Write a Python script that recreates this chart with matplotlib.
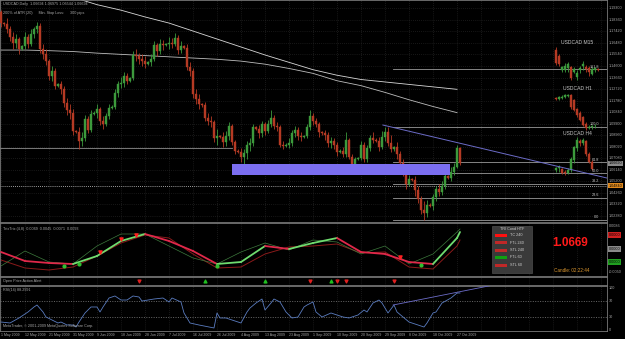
import numpy as np
import matplotlib
matplotlib.use("Agg")
import matplotlib.pyplot as plt
from matplotlib.patches import Rectangle

plt.rcParams['font.family'] = ['Liberation Sans', 'DejaVu Sans']

# ---------------- data ----------------
date_labels = ["1 May 2009", "12 May 2009", "21 May 2009", "31 May 2009", "9 Jun 2009",
               "18 Jun 2009", "28 Jun 2009", "7 Jul 2009", "16 Jul 2009", "26 Jul 2009",
               "4 Aug 2009", "13 Aug 2009", "23 Aug 2009", "1 Sep 2009", "10 Sep 2009",
               "20 Sep 2009", "29 Sep 2009", "8 Oct 2009", "18 Oct 2009", "27 Oct 2009"]

first_open = 1.1900
close = [1.1810, 1.1800, 1.1760, 1.1700, 1.1650, 1.1680, 1.1600, 1.1620,
         1.1700, 1.1640, 1.1720, 1.1760, 1.1790, 1.1600, 1.1560, 1.1500,
         1.1380, 1.1420, 1.1300, 1.1310, 1.1270, 1.1160, 1.1100, 1.1080,
         1.0930, 1.0920, 1.0850, 1.0870, 1.1030, 1.0940, 1.1070, 1.1080,
         1.1110, 1.1010, 1.0990, 1.1050, 1.1120, 1.1130, 1.1240, 1.1310,
         1.1320, 1.1380, 1.1340, 1.1360, 1.1550, 1.1540, 1.1520, 1.1500,
         1.1480, 1.1490, 1.1520, 1.1630, 1.1580, 1.1640, 1.1630, 1.1640,
         1.1650, 1.1640, 1.1690, 1.1590, 1.1620, 1.1610, 1.1450, 1.1420,
         1.1230, 1.1190, 1.1150, 1.1140, 1.1040, 1.1010, 1.1000, 1.0870,
         1.0890, 1.0880, 1.0840, 1.0890, 1.0970, 1.0840, 1.0770, 1.0760,
         1.0720, 1.0750, 1.0820, 1.0830, 1.0960, 1.0950, 1.0910, 1.0990,
         1.0930, 1.0990, 1.1040, 1.0970, 1.0960, 1.0820, 1.0810, 1.0820,
         1.0830, 1.0910, 1.0940, 1.0890, 1.0880, 1.0890, 1.0960, 1.1050,
         1.1010, 1.0990, 1.0920, 1.0910, 1.0900, 1.0830, 1.0850, 1.0820,
         1.0760, 1.0770, 1.0740, 1.0860, 1.0720, 1.0650, 1.0700, 1.0710,
         1.0820, 1.0700, 1.0790, 1.0870, 1.0860, 1.0850, 1.0800, 1.0880,
         1.0920, 1.0830, 1.0780, 1.0800, 1.0740, 1.0670, 1.0590, 1.0500,
         1.0540, 1.0530, 1.0450, 1.0380, 1.0290, 1.0260, 1.0330, 1.0320,
         1.0390, 1.0460, 1.0430, 1.0480, 1.0560, 1.0550, 1.0600, 1.0640,
         1.0790, 1.0669]
high = [1.1920, 1.1820, 1.1850, 1.1790, 1.1740, 1.1720, 1.1700, 1.1630,
        1.1740, 1.1720, 1.1760, 1.1780, 1.1820, 1.1810, 1.1640, 1.1600,
        1.1520, 1.1460, 1.1440, 1.1320, 1.1340, 1.1300, 1.1200, 1.1150,
        1.1110, 1.0940, 1.0960, 1.0920, 1.1060, 1.1050, 1.1100, 1.1090,
        1.1150, 1.1130, 1.1050, 1.1080, 1.1150, 1.1140, 1.1270, 1.1340,
        1.1370, 1.1410, 1.1400, 1.1370, 1.1580, 1.1600, 1.1570, 1.1560,
        1.1540, 1.1500, 1.1560, 1.1660, 1.1650, 1.1680, 1.1670, 1.1650,
        1.1700, 1.1690, 1.1725, 1.1710, 1.1660, 1.1630, 1.1640, 1.1490,
        1.1440, 1.1270, 1.1230, 1.1160, 1.1170, 1.1080, 1.1050, 1.1020,
        1.0950, 1.0900, 1.0920, 1.0930, 1.1000, 1.0990, 1.0860, 1.0780,
        1.0790, 1.0780, 1.0850, 1.0870, 1.0990, 1.0970, 1.0980, 1.1010,
        1.1000, 1.1020, 1.1100, 1.1060, 1.1000, 1.0980, 1.0850, 1.0830,
        1.0870, 1.0940, 1.0970, 1.0960, 1.0920, 1.0900, 1.0990, 1.1100,
        1.1080, 1.1040, 1.1000, 1.0930, 1.0940, 1.0920, 1.0880, 1.0870,
        1.0840, 1.0780, 1.0800, 1.0920, 1.0870, 1.0740, 1.0720, 1.0720,
        1.0850, 1.0840, 1.0820, 1.0900, 1.0920, 1.0870, 1.0880, 1.0930,
        1.0960, 1.0965, 1.0900, 1.0810, 1.0840, 1.0770, 1.0700, 1.0620,
        1.0570, 1.0550, 1.0560, 1.0480, 1.0400, 1.0360, 1.0370, 1.0340,
        1.0420, 1.0480, 1.0500, 1.0520, 1.0590, 1.0570, 1.0640, 1.0670,
        1.0816, 1.0800]
low = [1.1780, 1.1790, 1.1730, 1.1660, 1.1600, 1.1610, 1.1560, 1.1590,
       1.1600, 1.1610, 1.1620, 1.1690, 1.1730, 1.1570, 1.1520, 1.1470,
       1.1350, 1.1340, 1.1270, 1.1290, 1.1230, 1.1130, 1.1060, 1.1030,
       1.0900, 1.0910, 1.0785, 1.0810, 1.0850, 1.0910, 1.0920, 1.1060,
       1.1040, 1.0980, 1.0950, 1.0970, 1.1030, 1.1110, 1.1110, 1.1210,
       1.1280, 1.1290, 1.1310, 1.1330, 1.1350, 1.1500, 1.1480, 1.1460,
       1.1440, 1.1470, 1.1460, 1.1500, 1.1540, 1.1560, 1.1590, 1.1620,
       1.1600, 1.1610, 1.1620, 1.1560, 1.1570, 1.1600, 1.1430, 1.1380,
       1.1200, 1.1150, 1.1110, 1.1130, 1.1010, 1.0980, 1.0960, 1.0840,
       1.0820, 1.0870, 1.0800, 1.0810, 1.0860, 1.0820, 1.0740, 1.0750,
       1.0680, 1.0630, 1.0700, 1.0770, 1.0810, 1.0940, 1.0870, 1.0880,
       1.0900, 1.0910, 1.0960, 1.0950, 1.0930, 1.0800, 1.0780, 1.0800,
       1.0790, 1.0810, 1.0880, 1.0860, 1.0850, 1.0870, 1.0870, 1.0940,
       1.0980, 1.0960, 1.0880, 1.0900, 1.0860, 1.0800, 1.0790, 1.0780,
       1.0730, 1.0750, 1.0720, 1.0720, 1.0700, 1.0620, 1.0610, 1.0690,
       1.0690, 1.0680, 1.0680, 1.0770, 1.0830, 1.0840, 1.0770, 1.0780,
       1.0850, 1.0810, 1.0760, 1.0770, 1.0700, 1.0640, 1.0560, 1.0460,
       1.0480, 1.0520, 1.0400, 1.0340, 1.0250, 1.0207, 1.0230, 1.0310,
       1.0290, 1.0360, 1.0400, 1.0410, 1.0460, 1.0540, 1.0520, 1.0570,
       1.0630, 1.0654]

# moving averages, read every 8 bars
ma_bars = [0, 8, 16, 24, 32, 40, 48, 56, 64, 72, 80, 88, 96, 104, 112, 120, 128, 136, 144, 152]
ma_slow = [1.2090, 1.2070, 1.2045, 1.2020, 1.1960, 1.1915, 1.1860, 1.1810, 1.1745, 1.1680,
           1.1615, 1.1550, 1.1490, 1.1430, 1.1385, 1.1350, 1.1330, 1.1310, 1.1290, 1.1270]
ma_fast = [1.1590, 1.1590, 1.1585, 1.1578, 1.1565, 1.1555, 1.1545, 1.1535, 1.1525, 1.1515,
           1.1500, 1.1475, 1.1440, 1.1400, 1.1340, 1.1300, 1.1245, 1.1185, 1.1130, 1.1080]

fib_low, fib_high = 1.0207, 1.0965
fib_levels = [0.0, 23.6, 38.2, 50.0, 61.8, 100.0, 161.8]
hline_price = 1.0484
support_price = 1.0790
support_bars = (-1, 77)
zone_prices = (1.0572, 1.0661)
zone_bars = (77, 149.7)
trend_bars = [127.3, 202]
trend_prices = [1.0979, 1.0547]

price_ticks = [1.1930, 1.1836, 1.1742, 1.1648, 1.1554, 1.1460, 1.1366, 1.1272, 1.1178, 1.1084,
               1.0990, 1.0896, 1.0802, 1.0708, 1.0614, 1.0520, 1.0426, 1.0332, 1.0238]

# mini charts (open, close, high, low) on the main price scale
m15 = [(1.1591, 1.1485, 1.1615, 1.1468), (1.1542, 1.1476, 1.1558, 1.1460),
       (1.1428, 1.1452, 1.1460, 1.1411), (1.1428, 1.1460, 1.1485, 1.1411),
       (1.1444, 1.1476, 1.1493, 1.1411), (1.1452, 1.1362, 1.1460, 1.1346),
       (1.1411, 1.1436, 1.1452, 1.1403), (1.1370, 1.1403, 1.1428, 1.1346),
       (1.1428, 1.1444, 1.1460, 1.1403), (1.1460, 1.1476, 1.1501, 1.1428),
       (1.1452, 1.1436, 1.1468, 1.1411), (1.1444, 1.1411, 1.1460, 1.1379),
       (1.1395, 1.1436, 1.1452, 1.1387), (1.1428, 1.1444, 1.1452, 1.1411),
       (1.1436, 1.1428, 1.1444, 1.1419)]
h1 = [(1.1200, 1.1190, 1.1210, 1.1180), (1.1195, 1.1205, 1.1215, 1.1185),
      (1.1200, 1.1210, 1.1220, 1.1190), (1.1207, 1.1220, 1.1230, 1.1200),
      (1.1215, 1.1225, 1.1235, 1.1205), (1.1224, 1.1126, 1.1230, 1.1110),
      (1.1183, 1.1102, 1.1190, 1.1090), (1.1110, 1.1060, 1.1120, 1.1044),
      (1.1077, 1.1020, 1.1090, 1.1010), (1.1044, 1.0979, 1.1050, 1.0970),
      (1.0990, 1.0955, 1.1000, 1.0939), (1.0955, 1.0965, 1.0979, 1.0945),
      (1.0960, 1.0972, 1.0980, 1.0950), (1.0968, 1.0975, 1.0985, 1.0955)]
h4 = [(1.0610, 1.0630, 1.0640, 1.0596), (1.0625, 1.0640, 1.0655, 1.0600),
      (1.0620, 1.0590, 1.0630, 1.0580), (1.0600, 1.0585, 1.0610, 1.0572),
      (1.0590, 1.0615, 1.0625, 1.0580), (1.0610, 1.0700, 1.0718, 1.0600),
      (1.0690, 1.0800, 1.0810, 1.0670), (1.0790, 1.0860, 1.0880, 1.0770),
      (1.0850, 1.0830, 1.0865, 1.0810), (1.0830, 1.0855, 1.0870, 1.0815),
      (1.0850, 1.0740, 1.0860, 1.0730), (1.0745, 1.0680, 1.0760, 1.0670),
      (1.0680, 1.0620, 1.0690, 1.0610)]

# Trix panel (indicator units), read every 8 bars
trix_bars = ma_bars + [153]
trix_main = [24, 15, 13, 12, 20, 35, 42, 35, 25, 12, 14, 30, 27, 33, 38, 24, 22, 14, 12, 38, 44]
trix_slow = [16, 8, 6, 9, 20, 33, 41, 38, 22, 8, 9, 22, 29, 30, 32, 23, 24, 9, 7, 30, 36]
trix_fast = [10, 25, 14, 12, 30, 42, 42, 30, 18, 12, 24, 33, 26, 36, 34, 22, 30, 12, 22, 44, 47]
trix_arrow_dn = [33, 40, 45, 133]
trix_arrow_up = [21, 26, 72, 140]

alert_dn = [46, 103, 112, 115, 131]
alert_up = [68, 88, 110]

rsi_bars = [0, 3, 6, 9, 11, 12, 14, 15, 17, 19, 20, 22, 24, 25, 26, 28, 30, 32, 33, 34,
            36, 38, 40, 42, 44, 46, 47, 51, 54, 56, 57, 60, 61, 63, 66, 71, 72, 73, 75, 77,
            80, 82, 83, 85, 87, 88, 90, 91, 93, 95, 97, 99, 101, 102, 104, 105, 107, 110, 112, 114,
            116, 117, 119, 121, 122, 124, 126, 127, 129, 131, 132, 134, 136, 139, 141, 142, 144, 145, 147, 150,
            152, 153]
rsi_vals = [19.0, 16.7, 28.6, 42.9, 54.8, 59.5, 42.9, 31.0, 23.8, 16.7, 19.0, 11.9, 11.9, 7.1, 19.0,
            40.5, 54.8, 54.8, 42.9, 54.8, 76.2, 81.0, 71.4, 71.4, 81.0, 78.6, 69.0, 73.8, 76.2, 66.7,
            76.2, 66.7, 40.5, 16.7, 11.9, 4.8, 40.5, 28.6, 28.6, 23.8, 16.7, 42.9, 52.4, 64.3, 73.8,
            47.6, 64.3, 73.8, 66.7, 42.9, 28.6, 31.0, 54.8, 59.5, 66.7, 42.9, 31.0, 40.5, 35.7, 31.0,
            28.6, 31.0, 35.7, 47.6, 42.9, 64.3, 71.4, 64.3, 40.5, 59.5, 42.9, 31.0, 19.0, 11.9, 7.1,
            16.7, 40.5, 42.9, 64.3, 76.2, 88.1, 88.1]
rsi_trend_bars = [130.7, 163]
rsi_trend_vals = [59.5, 105.5]

legend_rows = [("TC 240", "#ff1010"), ("FTL 240", "#c02828"), ("STL 240", "#c02828"),
               ("FTL 60", "#10a010"), ("STL 60", "#c02828")]

# ---------------- layout ----------------
W, H = 625.0, 339.0
BG = "black"
GRIDC = "#2e2e2e"
TXT = "#a8a8a8"
UP = "#3c9a3c"
DN = "#b53a24"
FS = 2.7
P0, K = 1.1998, 0.000815  # price at top pixel, price per pixel
XL = (-1 / 3, 202)

fig = plt.figure(figsize=(6.25, 3.39), dpi=100, facecolor=BG)


def panel(y0, y1):
    ax = fig.add_axes([0, 1 - y1 / H, 607 / W, (y1 - y0) / H])
    ax.set_facecolor(BG)
    ax.set_xticks([])
    ax.set_yticks([])
    for s in ax.spines.values():
        s.set_color("#7a7a7a")
        s.set_linewidth(0.6)
    ax.set_xlim(*XL)
    for b in range(0, 203, 8):
        ax.axvline(b, color=GRIDC, lw=0.5, ls=(0, (1, 2)), zorder=0)
    return ax


def rtext(y, s, **kw):
    fig.text(609 / W, 1 - y / H, s, color=kw.pop("color", TXT), fontsize=FS,
             va="center", ha="left", **kw)


def candles(ax, xs, o, c, h, l, lw=0.6, w=0.55):
    for x, oo, cc, hh, ll in zip(xs, o, c, h, l):
        col = UP if cc >= oo else DN
        ax.vlines(x, ll, hh, color=col, lw=lw, zorder=3)
        ax.add_patch(Rectangle((x - w / 2, min(oo, cc)), w, max(abs(cc - oo), 0.0002),
                               facecolor=col, edgecolor=col, lw=0.3, zorder=3))


# ---- main chart ----
ax = panel(0, 222)
ax.set_ylim(P0 - 222 * K, P0)
for p in price_ticks:
    ax.axhline(p, color=GRIDC, lw=0.5, ls=(0, (1, 2)), zorder=0)
    rtext((P0 - p) / K, f"{p:.4f}0")

bars = np.arange(len(close))
opens = [first_open] + close[:-1]
candles(ax, bars, opens, close, high, low)

ax.plot(ma_bars, ma_slow, color="#d8d8d8", lw=0.6, zorder=2)
ax.plot(ma_bars, ma_fast, color="#bdbdbd", lw=0.6, zorder=2)

ax.plot(support_bars, [support_price] * 2, color="#8c8c8c", lw=0.6, zorder=2)
ax.add_patch(Rectangle((zone_bars[0], zone_prices[0]), zone_bars[1] - zone_bars[0],
                       zone_prices[1] - zone_prices[0], facecolor="#7b6ef0",
                       edgecolor="none", zorder=4))
ax.plot(trend_bars, trend_prices, color="#6c6cc8", lw=0.7, zorder=4)
ax.axhline(hline_price, color="#d0d0d0", lw=0.6, ls=(0, (1, 1.5)), zorder=2)

x_fib = 130.7
for lv in fib_levels:
    p = fib_low + (fib_high - fib_low) * lv / 100
    ax.plot([x_fib, XL[1]], [p, p], color="#9a9a9a", lw=0.6, zorder=2)
    ax.text(199.5, p + 0.0006, f"{lv:.1f}", color="#c8c8c8", fontsize=FS,
            ha="right", va="bottom", zorder=5)

for data, x0, name, ny in ((m15, 185, "USDCAD M15", 1.1633), (h1, 185, "USDCAD H1", 1.1255),
                           (h4, 185, "USDCAD H4", 1.0892)):
    xs = np.arange(x0, x0 + len(data))
    candles(ax, xs, [d[0] for d in data], [d[1] for d in data],
            [d[2] for d in data], [d[3] for d in data], lw=0.6, w=0.6)
    ax.text(x0 + 7, ny, name, color="#c8c8c8", fontsize=3.6, ha="center", va="bottom", zorder=5)

# price highlights on axis
for p, bgc, fc in ((close[-1], "#8a8a8a", "black"), (hline_price, "#e08a1e", "black")):
    fig.text(609 / W, 1 - ((P0 - p) / K) / H, f"{p:.5f}", color=fc, fontsize=FS, va="center",
             ha="left", bbox=dict(boxstyle="square,pad=0.15", fc=bgc, ec="none"))

fig.text(3 / W, 1 - 4 / H, "USDCAD,Daily  1.06694 1.06975 1.06544 1.06694", color=TXT,
         fontsize=FS, va="center")
fig.text(3 / W, 1 - 13 / H, "200% of ATR (20)      Min. Stop Loss:      300 pips", color=TXT,
         fontsize=FS, va="center")

# ---- Trix panel ----
ax2 = panel(223, 276)
ax2.set_ylim(0, 53)
tm = np.array(trix_main, float)
for i in range(len(trix_bars) - 1):
    col = "#6fdc6f" if tm[i + 1] > tm[i] else "#e0284a"
    ax2.plot(trix_bars[i:i + 2], tm[i:i + 2], color=col, lw=1.3, zorder=3,
             solid_capstyle="round")
ax2.plot(trix_bars, trix_slow, color="#8a1a1a", lw=0.7, zorder=2)
ax2.plot(trix_bars, trix_fast, color="#3d7a3d", lw=0.5, zorder=2)
ax2.scatter(trix_arrow_dn, np.interp(trix_arrow_dn, trix_bars, tm) + 2, marker="v", s=5,
            color="#ff2020", zorder=4)
ax2.scatter(trix_arrow_up, np.interp(trix_arrow_up, trix_bars, tm) - 2, marker="o", s=4,
            color="#30c030", zorder=4)
fig.text(3 / W, 1 - 229 / H, "TrixTrix (4,8)  0.0069  0.0045  0.0071  0.0093", color=TXT,
         fontsize=FS, va="center")

# legend box
lx0 = 492
fig.patches.append(Rectangle((lx0 / W, 1 - 273 / H), 40 / W, 47 / H, transform=fig.transFigure,
                             facecolor="#3a3a3a", edgecolor="#5a5a5a", lw=0.4))
fig.text((lx0 + 20) / W, 1 - 229 / H, "TRI Cond HTF", color="#d0d0d0", fontsize=FS,
         ha="center", va="center")
for k, (lab, col) in enumerate(legend_rows):
    yy = 235 + k * 7.5
    fig.patches.append(Rectangle(((lx0 + 3) / W, 1 - (yy + 1.5) / H), 12 / W, 3 / H,
                                 transform=fig.transFigure, facecolor=col, edgecolor="none"))
    fig.text((lx0 + 18) / W, 1 - yy / H, lab, color="#d0d0d0", fontsize=FS, va="center")

fig.text(570 / W, 1 - 243 / H, f"{close[-1]:.4f}", color="#ff1a1a", fontsize=8.5,
         fontweight="bold", ha="center", va="center")
fig.text(572 / W, 1 - 271 / H, "Candle: 02:22:44", color="#e09a30", fontsize=3.3,
         ha="center", va="center")
for yy, bgc in ((235, "#d02020"), (249, "#8a8a8a"), (262, "#20a020")):
    fig.text(609 / W, 1 - yy / H, "0.0000", color="black", fontsize=FS, va="center",
             bbox=dict(boxstyle="square,pad=0.15", fc=bgc, ec="none"))
rtext(226, "0.0086")
rtext(272, "-0.0050")

# ---- alert panel ----
ax3 = panel(277, 285)
ax3.set_ylim(0, 1)
ax3.scatter(alert_dn, [0.5] * len(alert_dn), marker="v", s=4, color="#e02020", zorder=3)
ax3.scatter(alert_up, [0.5] * len(alert_up), marker="^", s=4, color="#20c020", zorder=3)
fig.text(3 / W, 1 - 281 / H, "Open Price Action Alert", color=TXT, fontsize=FS, va="center")

# ---- RSI ----
ax4 = panel(286, 331)
ax4.set_ylim(-2.4, 104.8)
for lv in (30, 70):
    ax4.axhline(lv, color="#8a8a8a", lw=0.5, ls=(0, (1.5, 2)), zorder=1)
ax4.plot(rsi_bars, rsi_vals, color="#5a7cc0", lw=0.6, zorder=3)
ax4.plot(rsi_trend_bars, rsi_trend_vals, color="#6c6cc8", lw=0.6, zorder=3)
fig.text(3 / W, 1 - 290 / H, "RSI(14) 88.2991", color=TXT, fontsize=FS, va="center")
fig.text(3 / W, 1 - 326 / H, "MetaTrader, \u00a9 2001-2009 MetaQuotes Software Corp.",
         color=TXT, fontsize=FS, va="center")
for v, yy in ((100, 288), (70, 301), (30, 317), (0, 330)):
    rtext(yy, str(v))

# dates
for k, lab in enumerate(date_labels):
    x = 1 + 3 * (8 * k)
    fig.text(x / W, 1 - 335 / H, lab, color=TXT, fontsize=2.5, va="center", ha="left")

fig.savefig("out.png", dpi=100, facecolor=BG)
